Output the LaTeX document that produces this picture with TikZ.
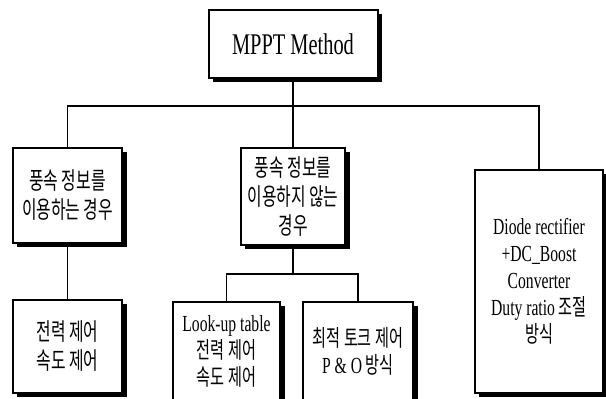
\documentclass[tikz,border=0pt]{standalone}
\usepackage{fontspec}
\setmainfont{Liberation Serif}[FakeStretch=0.68]
\newfontfamily\kr{Noto Sans CJK KR}[FakeStretch=0.66]
\usetikzlibrary{backgrounds}

\begin{document}
\begin{tikzpicture}[x=1pt,y=1pt,
	box/.style={draw,line width=2pt,fill=white,inner sep=0pt,outer sep=0pt,align=center},
	shadowline/.style={draw,line width=3.5pt,line join=miter},
	entext/.style={font=\fontsize{23}{27}\selectfont},
	krtext/.style={font=\kr\fontsize{24}{29}\selectfont},
	link/.style={line width=1.6pt}]
	\useasboundingbox (0,0) rectangle (606,399);

	%Top box
	\node[box,minimum width=169,minimum height=68,font=\fontsize{30}{34}\selectfont] (mppt) at (293,355) {MPPT Method};

	%Second row
	\node[box,krtext,minimum width=109,minimum height=95] (wind) at (67.5,203.5) {풍속 정보를\\이용하는 경우};
	\node[box,krtext,minimum width=104,minimum height=97] (nowind) at (293,202.5) {풍속 정보를\\이용하지 않는\\경우};
	\node[box,entext,minimum width=128,minimum height=223] (diode) at (539,117.5)
		{Diode rectifier\\+DC\_Boost\\Converter\\Duty ratio {\kr 조절}\\{\kr 방식}};

	%Third row
	\node[box,krtext,minimum width=109,minimum height=93] (power) at (67.5,52.5) {전력 제어\\속도 제어};
	\node[box,entext,minimum width=107,minimum height=99] (lookup) at (226.5,47.5)
		{Look-up table\\{\kr 전력 제어}\\{\kr 속도 제어}};
	\node[box,entext,minimum width=110,minimum height=99] (po) at (358,47.5)
		{{\kr 최적 토크 제어}\\P \& O {\kr 방식}};

	%Shadows
	\foreach \n in {mppt,wind,nowind,diode,power,lookup,po}
		\path[shadowline] ([shift={(2.75,-4.5)}]\n.north east) |- ([shift={(4,-2.75)}]\n.south west);
	\begin{scope}[on background layer]
		\fill[white] (0,0) rectangle (606,399);
	\end{scope}

	%Connectors
	\coordinate (bus) at (0,293);
	\coordinate (subbus) at (0,125);
	\draw[link] (mppt.south) -- (mppt.south |- bus);
	\draw[link] (wind.north) |- (diode.north |- bus) -- (diode.north);
	\draw[link] (nowind.north |- bus) -- (nowind.north);
	\draw[link] (wind.south) -- (power.north);
	\draw[link] (nowind.south) -- (nowind.south |- subbus);
	\draw[link] (lookup.north) |- (po.north |- subbus) -- (po.north);
\end{tikzpicture}
\end{document}
